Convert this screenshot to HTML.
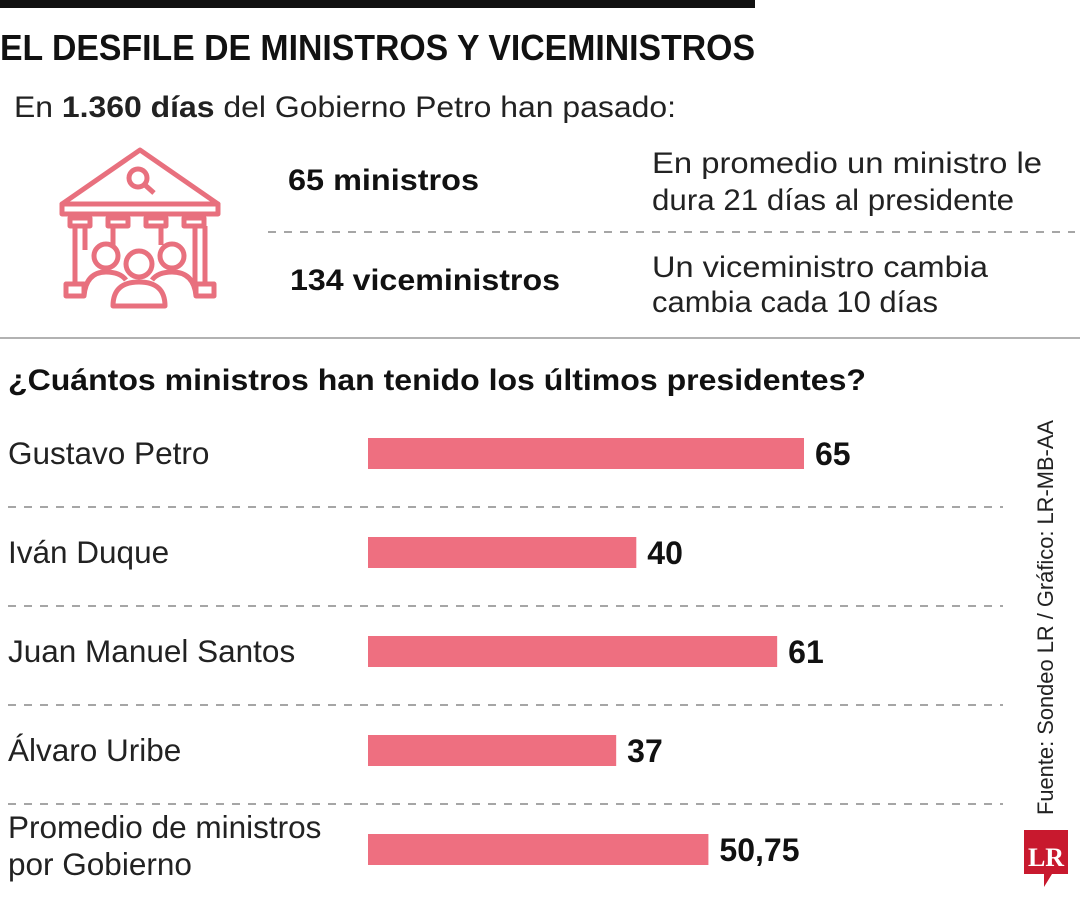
<!DOCTYPE html>
<html><head><meta charset="utf-8"><style>
html,body{margin:0;padding:0;background:#fff;}
svg{display:block;font-family:"Liberation Sans",sans-serif;}
</style></head><body>
<svg id="chart" width="1080" height="900" viewBox="0 0 1080 900" xmlns="http://www.w3.org/2000/svg">
<rect x="0" y="0" width="755" height="8" fill="#111"/>
<text x="0" y="60" font-size="36" font-weight="bold" fill="#111" textLength="755" lengthAdjust="spacingAndGlyphs">EL DESFILE DE MINISTROS Y VICEMINISTROS</text>
<text x="14" y="117" font-size="30" fill="#222" textLength="662" lengthAdjust="spacingAndGlyphs">En <tspan font-weight="bold">1.360 días</tspan> del Gobierno Petro han pasado:</text>
<g fill="none" stroke="#e8707e" stroke-width="5" stroke-linejoin="round">
<path d="M140 150 L62 204 L218 204 Z"/>
<rect x="62" y="204" width="156" height="10"/>
<circle cx="138" cy="178" r="9"/><line x1="145" y1="185" x2="154" y2="193"/>
<rect x="70" y="218" width="20" height="8"/><rect x="108" y="218" width="20" height="8"/><rect x="146" y="218" width="20" height="8"/><rect x="184" y="218" width="20" height="8"/>
<line x1="75" y1="226" x2="75" y2="284"/><line x1="85" y1="226" x2="85" y2="250"/>
<line x1="195" y1="226" x2="195" y2="284"/><line x1="205" y1="226" x2="205" y2="284"/>
<line x1="113" y1="226" x2="113" y2="245"/><line x1="161" y1="226" x2="161" y2="245"/>
<rect x="66" y="284" width="18" height="12"/><rect x="196" y="284" width="18" height="12"/>
<circle cx="106" cy="256" r="12"/><circle cx="172" cy="256" r="12"/>
<path d="M84 296 Q86 272 106 272 Q120 272 126 280"/><path d="M196 296 Q194 272 172 272 Q158 272 152 280"/>
<circle cx="139" cy="264" r="13"/>
<path d="M113 306 Q113 282 139 282 Q165 282 165 306 Z"/>
</g>
<text x="288" y="190" font-size="30" font-weight="bold" fill="#111" textLength="191" lengthAdjust="spacingAndGlyphs">65 ministros</text>
<text x="652" y="173" font-size="30" fill="#222" textLength="390" lengthAdjust="spacingAndGlyphs">En promedio un ministro le</text>
<text x="652" y="210" font-size="30" fill="#222" textLength="362" lengthAdjust="spacingAndGlyphs">dura 21 días al presidente</text>
<line x1="268" y1="232" x2="1075" y2="232" stroke="#888" stroke-width="1.5" stroke-dasharray="8 8"/>
<text x="290" y="290" font-size="30" font-weight="bold" fill="#111" textLength="270" lengthAdjust="spacingAndGlyphs">134 viceministros</text>
<text x="652" y="277" font-size="30" fill="#222" textLength="336" lengthAdjust="spacingAndGlyphs">Un viceministro cambia</text>
<text x="652" y="312" font-size="30" fill="#222" textLength="286" lengthAdjust="spacingAndGlyphs">cambia cada 10 días</text>
<line x1="0" y1="338" x2="1080" y2="338" stroke="#999" stroke-width="1.5"/>
<text x="8" y="390" font-size="30" font-weight="bold" fill="#111" textLength="858" lengthAdjust="spacingAndGlyphs">¿Cuántos ministros han tenido los últimos presidentes?</text>
<g id="bars"></g>
<text transform="translate(1053,815) rotate(-90)" font-size="22" fill="#222" textLength="395" lengthAdjust="spacingAndGlyphs">Fuente: Sondeo LR / Gráfico: LR-MB-AA</text>
<g>
<path d="M1024 830 H1068 V874 H1052 L1044 887 V874 H1024 Z" fill="#c8192e"/>
<text x="1046" y="866" font-size="26" font-weight="bold" fill="#fff" text-anchor="middle" font-family="Liberation Serif,serif">LR</text>
</g>
</svg>
<script>
const categories = [["Gustavo Petro"],["Iván Duque"],["Juan Manuel Santos"],["Álvaro Uribe"],["Promedio de ministros","por Gobierno"]];
const values = [65, 40, 61, 37, 50.75];
const valueLabels = ["65","40","61","37","50,75"];
const ns = "http://www.w3.org/2000/svg";
const g = document.getElementById('bars');
const x0 = 368, pxPerUnit = (804-368)/65;
function xScale(v){ return x0 + v*pxPerUnit; }
function yRow(i){ return 438 + i*99; }
function mk(tag, attrs){ const e=document.createElementNS(ns,tag); for(const k in attrs) e.setAttribute(k,attrs[k]); g.appendChild(e); return e; }
values.forEach((v,i)=>{
  const y = yRow(i);
  const r = mk('rect',{x:x0,y:y,width:xScale(v)-x0,height:31,fill:'#ee6f80'});
  
  
  const t = mk('text',{x:xScale(v)+11,y:y+27,'font-size':32,'font-weight':'bold',fill:'#111'});
  t.textContent = valueLabels[i];
  
  
  const lines = categories[i];
  lines.forEach((ln,j)=>{
    const base = lines.length>1 ? y+4+j*37 : y+26;
    const l = mk('text',{x:8,y:base,'font-size':31.5,fill:'#222'});
    l.textContent = ln;
    
    
  });
  if(i < values.length-1){
    const d = mk('line',{x1:8,y1:y+69,x2:1003,y2:y+69,stroke:'#888','stroke-width':1.5,'stroke-dasharray':'8 8'});
    
    
  }
});
</script>
</body></html>
